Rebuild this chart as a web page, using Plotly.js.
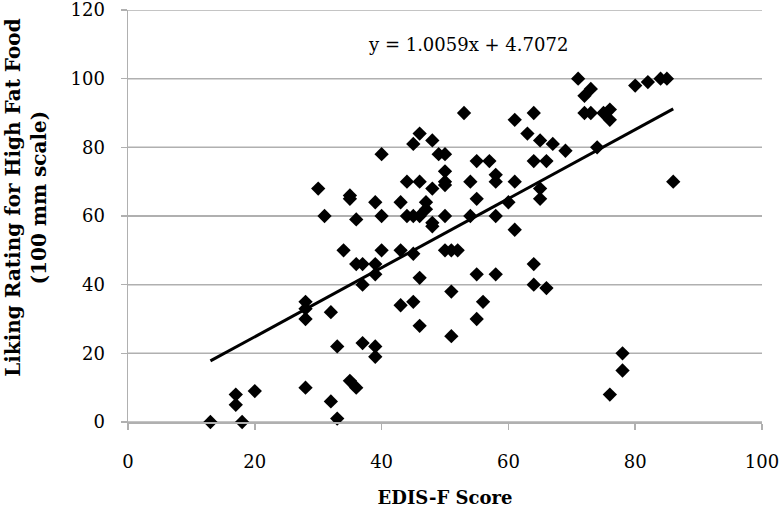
<!DOCTYPE html>
<html>
<head>
<meta charset="utf-8">
<script src="https://cdn.plot.ly/plotly-3.0.1.min.js"></script>
<style>html,body{margin:0;padding:0;background:#fff;}#chart{width:780px;height:514px;}</style>
</head>
<body>
<div id="chart"></div>
<script>
var edisScore = [13,17,17,18,20,28,28,28,28,30,31,32,32,33,33,34,35,35,35,36,36,36,37,37,37,39,39,39,39,39,
  40,40,40,43,43,43,44,44,45,45,45,45,46,46,46,46,46,47,47,48,48,48,48,
  49,50,50,50,50,50,50,51,52,51,51,53,54,54,55,55,55,55,56,57,
  58,58,58,58,60,61,61,61,63,64,64,64,64,65,65,65,66,66,
  67,69,71,72,73,72,73,74,75,76,76,76,78,78,80,82,84,85,86];
var likingRating = [0,8,5,0,9,35,33,30,10,68,60,32,6,22,1,50,66,65,12,10,59,46,46,40,23,64,46,43,22,19,
  78,60,50,64,50,34,70,60,81,60,49,35,84,70,60,42,28,64,62,82,68,58,57,
  78,78,73,70,69,60,50,50,50,38,25,90,70,60,76,65,43,30,35,76,
  72,70,60,43,64,88,70,56,84,90,76,46,40,82,68,65,76,39,
  81,79,100,95,97,90,90,80,90,91,88,8,20,15,98,99,100,100,70];
var slope = 1.0059, intercept = 4.7072;
var eqLabel = "y = 1.0059x + 4.7072";
var xTitle = "EDIS-F Score";
var yTitle = "Liking Rating for High Fat Food<br>(100 mm scale)";
var xTicks = [0,20,40,60,80,100];
var yTicks = [0,20,40,60,80,100,120];

var xMin = Math.min.apply(null, edisScore), xMax = Math.max.apply(null, edisScore);
var trendX = [xMin, xMax];
var trendY = trendX.map(function(x){ return slope*x + intercept; });

var serif = "DejaVu Serif, Liberation Serif, serif";
var gridGray = "#b0b0b0";
var gridShapes = yTicks.map(function(v){
  return {type: "line", xref: "paper", yref: "y", x0: 0, x1: 1, y0: v, y1: v,
          line: {color: gridGray, width: 1.5}, layer: "below"};
});
var data = [
  {x: edisScore, y: likingRating, type: "scatter", mode: "markers",
   marker: {symbol: "diamond", size: 11, color: "#000"}, showlegend: false, cliponaxis: false},
  {x: trendX, y: trendY, type: "scatter", mode: "lines",
   line: {color: "#000", width: 3}, showlegend: false}
];
var layout = {
  width: 780, height: 514,
  margin: {l: 128, r: 18, t: 10, b: 92},
  paper_bgcolor: "#fff", plot_bgcolor: "#fff",
  font: {family: serif, color: "#000", size: 18},
  shapes: gridShapes,
  xaxis: {range: [0, 100], tickvals: xTicks, ticktext: xTicks.map(String),
    showgrid: false, zeroline: false, showline: true, linecolor: gridGray, linewidth: 1.5,
    ticks: "outside", ticklen: 6, tickcolor: gridGray, tickwidth: 1.5, ticklabelstandoff: 17,
    tickfont: {family: serif, size: 18, color: "#000"},
    title: {text: "<b>" + xTitle + "</b>", font: {family: serif, size: 18, color: "#000"}, standoff: 20}},
  yaxis: {range: [0, 120], tickvals: yTicks, ticktext: yTicks.map(String),
    showgrid: true, gridcolor: gridGray, gridwidth: 1.5, ticklabeloverflow: "allow",
    zeroline: false, showline: true, linecolor: gridGray, linewidth: 1.5,
    ticks: "outside", ticklen: 6, tickcolor: gridGray, tickwidth: 1.5, ticklabelstandoff: 12,
    tickfont: {family: serif, size: 18, color: "#000"}},
  annotations: [
    {x: 53.6, y: 110, xref: "x", yref: "y", text: eqLabel, showarrow: false,
     font: {family: serif, size: 18, color: "#000"}},
    {x: -0.161, y: 0.544, xref: "paper", yref: "paper", text: "<b>" + yTitle + "</b>", textangle: -90,
     showarrow: false, xanchor: "center", yanchor: "middle",
     font: {family: serif, size: 20, color: "#000"}}
  ]
};
Plotly.newPlot("chart", data, layout, {displayModeBar: false, staticPlot: true});
</script>
</body>
</html>
